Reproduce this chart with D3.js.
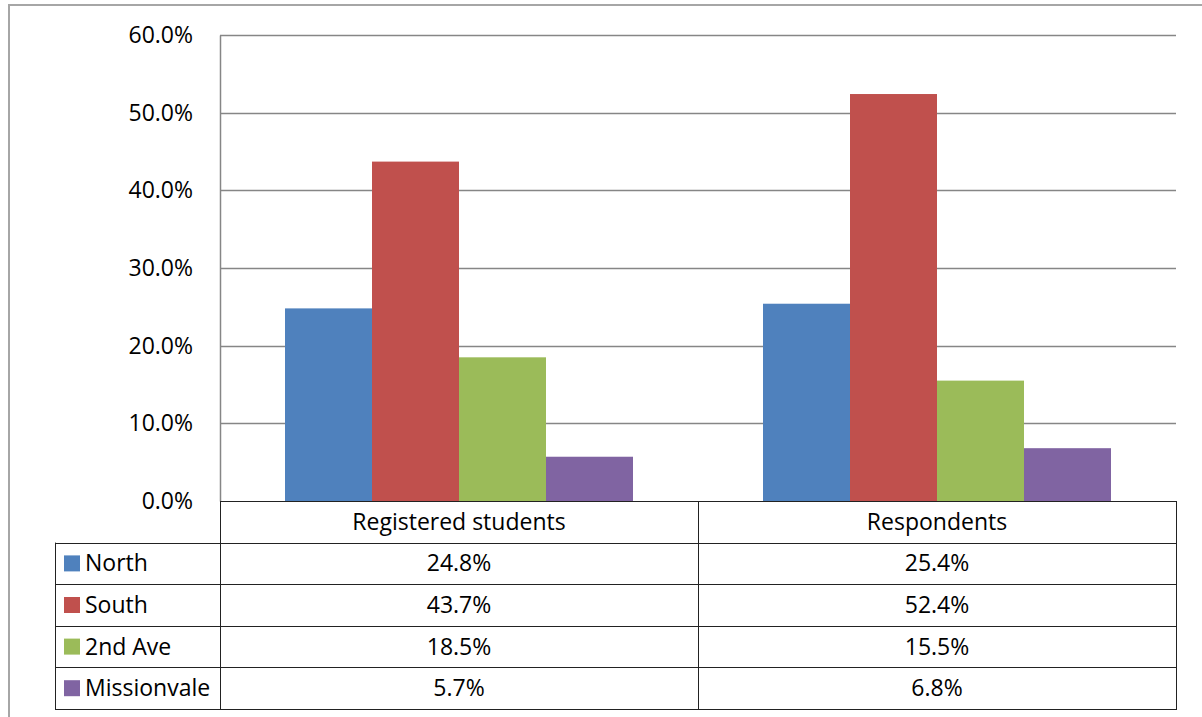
<!DOCTYPE html>
<html><head><meta charset="utf-8">
<script src="https://cdn.jsdelivr.net/npm/d3@7"></script>
<style>body{margin:0;background:#fff;} svg{display:block;} text{font-family:"Open Sans","Liberation Sans",sans-serif;}</style>
</head><body><svg id="c" width="1202" height="717"></svg>
<script>
const categories = ["Registered students", "Respondents"];
const seriesNames = ["North", "South", "2nd Ave", "Missionvale"];
const seriesColors = ["#4f81bd", "#c0504d", "#9bbb59", "#8064a2"];
const north = [24.8, 25.4];
const south = [43.7, 52.4];
const secondAve = [18.5, 15.5];
const missionvale = [5.7, 6.8];
const yTicks = [0, 10, 20, 30, 40, 50, 60];
const seriesValues = [north, south, secondAve, missionvale];

const FONT = '"Open Sans","Liberation Sans",sans-serif';
const FS = 23;
const svg = d3.select("#c");
const L = 220, R = 1176, T = 35, B = 501;
const rowH = 41.6;
const tableLeft = 55;

// outer frame
svg.append("rect").attr("x", 9).attr("y", 5).attr("width", 1300).attr("height", 800)
  .attr("fill", "none").attr("stroke", "#a6a6a6").attr("stroke-width", 2);

const x = d3.scaleBand().domain(categories).range([L, R]).paddingInner(0.272).paddingOuter(0.136);
const xs = d3.scaleBand().domain(seriesNames).range([0, x.bandwidth()]);
const y = d3.scaleLinear().domain([0, 60]).range([B, T]);

// gridlines
svg.append("g").selectAll("line").data(yTicks.filter(d => d > 0)).join("line")
  .attr("x1", L).attr("x2", R).attr("y1", d => Math.round(y(d)) + 0.5).attr("y2", d => Math.round(y(d)) + 0.5)
  .attr("stroke", "#868686").attr("stroke-width", 1.5);

// y axis
const yAxis = d3.axisLeft(y).tickValues(yTicks).tickFormat(d => d.toFixed(1) + "%").tickSize(0).tickPadding(27);
const ga = svg.append("g").attr("transform", `translate(${L},0)`).call(yAxis);
ga.select(".domain").attr("stroke", "#868686").attr("stroke-width", 1.5);
ga.selectAll("text").attr("font-size", FS).attr("fill", "#000").attr("font-family", FONT);

// bars
seriesNames.forEach((s, si) => {
  svg.append("g").selectAll("rect").data(categories).join("rect")
    .attr("x", c => x(c) + xs(s))
    .attr("width", xs.bandwidth())
    .attr("y", (c, i) => y(seriesValues[si][i]))
    .attr("height", (c, i) => B - y(seriesValues[si][i]))
    .attr("fill", seriesColors[si]);
});

// data table
const tg = svg.append("g").attr("font-family", FONT);
const lineC = "#222";
tg.append("line").attr("x1", L).attr("x2", R).attr("y1", B + 0.5).attr("y2", B + 0.5).attr("stroke", lineC);
const step = x.step();
const colEdges = [L, L + step, R];
colEdges.forEach(cx => {
  tg.append("line").attr("x1", cx + 0.5).attr("x2", cx + 0.5).attr("y1", B).attr("y2", B + rowH * 5).attr("stroke", lineC);
});
tg.append("line").attr("x1", tableLeft + 0.5).attr("x2", tableLeft + 0.5).attr("y1", B + rowH).attr("y2", B + rowH * 5).attr("stroke", lineC);
for (let r = 1; r <= 5; r++) {
  tg.append("line").attr("x1", tableLeft).attr("x2", R + 1).attr("y1", Math.round(B + rowH * r) + 0.5).attr("y2", Math.round(B + rowH * r) + 0.5).attr("stroke", lineC);
}
tg.selectAll("text.h").data(categories).join("text").attr("class", "h")
  .attr("x", c => x(c) + x.bandwidth() / 2).attr("y", B + rowH / 2 + 8)
  .attr("text-anchor", "middle").attr("font-size", FS).text(c => c);
seriesNames.forEach((s, si) => {
  const ry = B + rowH * (si + 1);
  tg.append("rect").attr("x", 64).attr("y", ry + rowH / 2 - 8).attr("width", 16).attr("height", 16).attr("fill", seriesColors[si]);
  tg.append("text").attr("x", 85).attr("y", ry + rowH / 2 + 8).attr("font-size", FS).text(s);
  categories.forEach((c, ci) => {
    tg.append("text").attr("x", x(c) + x.bandwidth() / 2).attr("y", ry + rowH / 2 + 8)
      .attr("text-anchor", "middle").attr("font-size", FS).text(seriesValues[si][ci].toFixed(1) + "%");
  });
});
</script></body></html>
